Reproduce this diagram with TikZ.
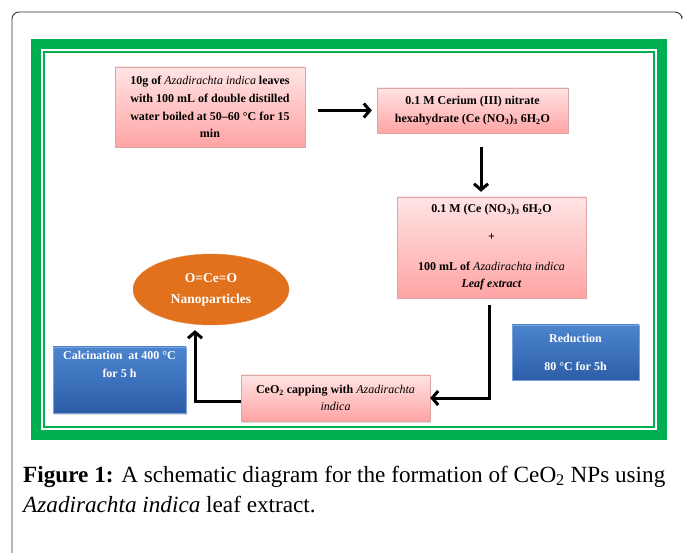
\documentclass[tikz,border=0pt]{standalone}
\usepackage{fontspec}
\setmainfont{Liberation Serif}
\usepackage{xcolor}
\usepackage{tikz}
\usetikzlibrary{positioning, shapes.geometric, arrows.meta, shadows}
\definecolor{frameGreen}{HTML}{00B050}
\definecolor{pinkTop}{HTML}{FFE4E4}
\definecolor{pinkBottom}{HTML}{FFA4A4}
\definecolor{pinkEdge}{HTML}{DDA6A6}
\definecolor{blueTop}{HTML}{4C84CE}
\definecolor{blueBottom}{HTML}{2D5EA8}
\definecolor{blueEdge}{HTML}{7AA3DC}
\definecolor{nanoOrange}{HTML}{E2711D}
\newcommand\boxFont{\fontsize{12}{17.7}\selectfont\bfseries}
\newcommand\plantName[1]{{\mdseries\itshape #1}}
\tikzset{
    pinkBox/.style={draw=pinkEdge, top color=pinkTop, bottom color=pinkBottom,
        drop shadow={opacity=0.25, shadow xshift=1pt, shadow yshift=-1.5pt},
        align=center, font=\boxFont, inner sep=0pt},
    blueBox/.style={draw=blueEdge, top color=blueTop, bottom color=blueBottom,
        drop shadow={opacity=0.25, shadow xshift=1pt, shadow yshift=-1.5pt}, inner sep=0pt},
    blueText/.style={align=center, font=\boxFont, text=white, inner sep=0pt},
    flowArrow/.style={line width=3pt, -{Straight Barb[length=6pt,width=14pt]}},
    capText/.style={font=\fontsize{23.2}{30}\selectfont, inner sep=0pt}
}
\begin{document}
\begin{tikzpicture}[x=1pt, y=-1pt]
    \useasboundingbox (0,0) rectangle (683,553);
    \draw[rounded corners=7pt, line width=0.9pt, black!80] (12,553) -- (12,12) -- (682,12) -- (682,16);
    \fill[frameGreen] (31,39) rectangle (667,440);
    \fill[white] (41,49) rectangle (657,430);
    \draw[frameGreen, line width=2.2pt] (44,52) rectangle (654,427);

    \node[pinkBox, minimum width=190pt, minimum height=80pt] (boxA) at (210,107)
        {10g of \plantName{Azadirachta indica} leaves\\ with 100 mL of double distilled\\
         water boiled at 50--60 °C for 15\\ min};
    \node[pinkBox, minimum width=191pt, minimum height=45pt] (boxB) at (472.5,110.5)
        {0.1 M Cerium (III) nitrate\\ hexahydrate (Ce (NO\textsubscript{3})\textsubscript{3} 6H\textsubscript{2}O};
    \node[pinkBox, minimum width=189pt, minimum height=101pt] (boxC) at (491.5,247.5)
        {0.1 M (Ce (NO\textsubscript{3})\textsubscript{3} 6H\textsubscript{2}O\\[10pt] +\\[12pt]
         100 mL of \plantName{Azadirachta indica}\\ \textit{Leaf extract}};
    \node[pinkBox, minimum width=189pt, minimum height=46pt] (boxD) at (335.5,398)
        {CeO\textsubscript{2} capping with \plantName{Azadirachta}\\ \plantName{indica}};
    \node[ellipse, draw=nanoOrange!85!white, fill=nanoOrange, minimum width=156pt, minimum height=71pt,
        inner sep=0pt, align=center, text=white, font=\fontsize{13.5}{21}\selectfont\bfseries]
        (nano) at (211,289.5) {O=Ce=O\\ Nanoparticles};

    \node[blueBox, minimum width=133pt, minimum height=66pt] (calc) at (119.5,380) {};
    \node[blueText, below=4pt of calc.north] (calcText) {Calcination \ at 400 °C\\ for 5 h};
    \node[blueBox, minimum width=127pt, minimum height=55pt] (redu) at (575.5,352.5) {};
    \node[blueText] (reduText) at (redu) {Reduction\\[11pt] 80 °C for 5h};

    \draw[flowArrow, shorten <=13pt, shorten >=5pt] (boxA.east |- boxB.west) -- (boxB.west);
    \draw[flowArrow, shorten <=14pt, shorten >=5pt] ([xshift=8.5pt]boxB.south) -- ([xshift=8.5pt]boxB.south |- boxC.north);
    \draw[flowArrow, shorten <=7pt] ([xshift=-2.5pt]boxC.south) |- (boxD.east);
    \draw[flowArrow, shorten >=5pt] ([yshift=-3pt]boxD.west) -| ([xshift=-16pt]nano.south);

    \node[capText, anchor=base west] (capA) at (23,482)
        {\textbf{Figure 1:} A schematic diagram for the formation of CeO\textsubscript{2} NPs using};
    \node[capText, anchor=base west] (capB) at (23,512) {\textit{Azadirachta indica} leaf extract.};
\end{tikzpicture}
\end{document}
